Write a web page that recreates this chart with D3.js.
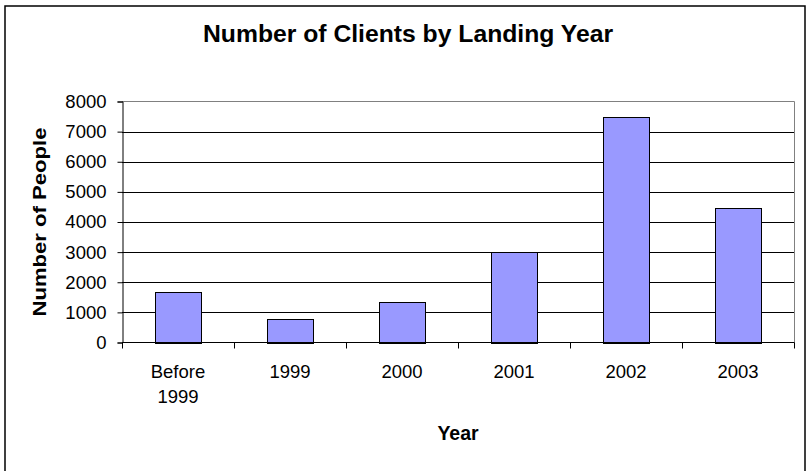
<!DOCTYPE html>
<html>
<head>
<meta charset="utf-8">
<script src="https://cdn.jsdelivr.net/npm/d3@7/dist/d3.min.js"></script>
<style>
  html, body { margin: 0; padding: 0; background: #fff; }
  svg { display: block; font-family: "Liberation Sans", Arial, sans-serif; }
</style>
</head>
<body>
<svg id="chart" width="812" height="471"></svg>
<script>
// Clients per landing year
const categories = ["Before 1999", "1999", "2000", "2001", "2002", "2003"];
const clients = [1690, 790, 1330, 3020, 7500, 4470];
const yTicks = [0, 1000, 2000, 3000, 4000, 5000, 6000, 7000, 8000];

const chartTitle = "Number of Clients by Landing Year";
const xTitle = "Year";
const yTitle = "Number of People";

const svg = d3.select("#chart");

// outer chart frame
svg.append("rect")
  .attr("x", 5).attr("y", 6)
  .attr("width", 800).attr("height", 480)
  .attr("fill", "#fff").attr("stroke", "#000").attr("stroke-width", 1.5);

const plot = { left: 122, right: 794, top: 101.5, bottom: 342.5 };

const x = d3.scaleBand()
  .domain(categories)
  .range([plot.left, plot.right])
  .paddingInner(0.59)
  .paddingOuter(0.295);

const y = d3.scaleLinear()
  .domain([0, 8000])
  .range([plot.bottom, plot.top]);

// horizontal gridlines
svg.append("g")
  .selectAll("line")
  .data(yTicks.filter(t => t > 0 && t < 8000))
  .join("line")
  .attr("x1", plot.left).attr("x2", plot.right)
  .attr("y1", d => Math.round(y(d)) + 0.5)
  .attr("y2", d => Math.round(y(d)) + 0.5)
  .attr("stroke", "#000").attr("stroke-width", 1);

// plot area border (top and right)
svg.append("path")
  .attr("d", `M${plot.left},${plot.top}H${plot.right + 0.5}V${plot.bottom}`)
  .attr("fill", "none").attr("stroke", "#808080").attr("stroke-width", 1);

// bars
svg.append("g")
  .selectAll("rect")
  .data(categories.map((c, i) => ({ c, v: clients[i] })))
  .join("rect")
  .attr("x", d => Math.round(x(d.c)) + 0.5)
  .attr("y", d => Math.round(y(d.v)) + 0.5)
  .attr("width", Math.round(x.bandwidth()))
  .attr("height", d => Math.round(y(0)) - Math.round(y(d.v)))
  .attr("fill", "#9999ff")
  .attr("stroke", "#000").attr("stroke-width", 1);

// y axis
const yAxis = d3.axisLeft(y)
  .tickValues(yTicks)
  .tickFormat(d3.format("d"))
  .tickSize(5)
  .tickPadding(11);
const gy = svg.append("g")
  .attr("transform", `translate(${plot.left + 0.5},0)`)
  .call(yAxis);
gy.select(".domain").attr("stroke", "#000");
gy.selectAll(".tick line").attr("stroke", "#000");
gy.selectAll(".tick text")
  .attr("fill", "#000")
  .style("font-size", "18.5px")
  .style("font-family", "'Liberation Sans', Arial, sans-serif");

// x axis: ticks at category boundaries
const step = x.step();
const boundaries = d3.range(categories.length + 1).map(i => plot.left + i * step);
const gx = svg.append("g");
gx.append("line")
  .attr("x1", plot.left).attr("x2", plot.right + 0.5)
  .attr("y1", plot.bottom).attr("y2", plot.bottom)
  .attr("stroke", "#000");
gx.selectAll("line.tk")
  .data(boundaries)
  .join("line")
  .attr("class", "tk")
  .attr("x1", d => Math.round(d) + 0.5).attr("x2", d => Math.round(d) + 0.5)
  .attr("y1", plot.bottom).attr("y2", plot.bottom + 6)
  .attr("stroke", "#000");

// category labels, wrapped on spaces
gx.selectAll("text.cat")
  .data(categories)
  .join("text")
  .attr("class", "cat")
  .attr("text-anchor", "middle")
  .style("font-size", "18.5px")
  .attr("fill", "#000")
  .each(function (d) {
    const lines = d.split(" ");
    const t = d3.select(this);
    lines.forEach((ln, i) => {
      t.append("tspan")
        .attr("x", x(d) + x.bandwidth() / 2)
        .attr("y", 378 + i * 25)
        .text(ln);
    });
  });

// titles
svg.append("text")
  .attr("x", 408).attr("y", 42)
  .attr("text-anchor", "middle")
  .attr("textLength", 410).attr("lengthAdjust", "spacingAndGlyphs")
  .style("font-size", "23.5px").style("font-weight", "bold")
  .text(chartTitle);

svg.append("text")
  .attr("x", (plot.left + plot.right) / 2).attr("y", 440)
  .attr("text-anchor", "middle")
  .style("font-size", "19.5px").style("font-weight", "bold")
  .text(xTitle);

svg.append("text")
  .attr("transform", `translate(46,${(plot.top + plot.bottom) / 2}) rotate(-90)`)
  .attr("text-anchor", "middle")
  .attr("textLength", 189).attr("lengthAdjust", "spacingAndGlyphs")
  .style("font-size", "18px").style("font-weight", "bold")
  .text(yTitle);
</script>
</body>
</html>
